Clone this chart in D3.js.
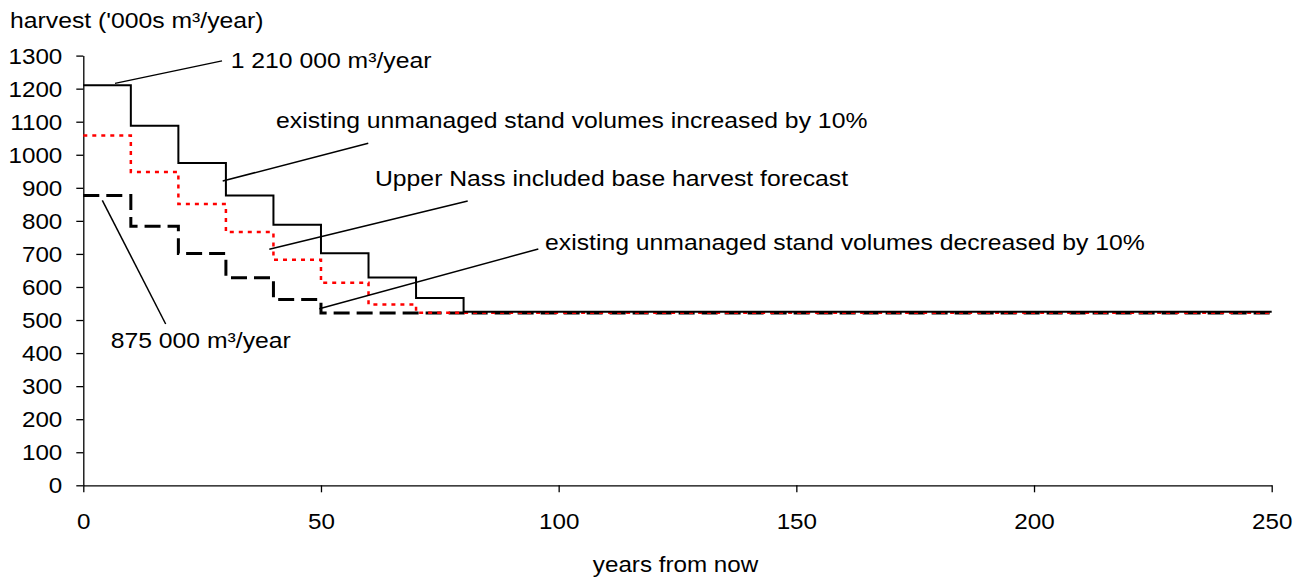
<!DOCTYPE html>
<html>
<head>
<meta charset="utf-8">
<script src="https://cdn.jsdelivr.net/npm/d3@7"></script>
<style>
  html, body { margin: 0; padding: 0; background: #fff; }
  svg { display: block; }
  text { font-family: "Liberation Sans", Arial, sans-serif; fill: #000; }
</style>
</head>
<body>
<svg id="chart" width="1303" height="578"></svg>
<script>
// ---- data ----
const years = [0, 10, 20, 30, 40, 50, 60, 70, 80, 250];
const increased = [1210, 1088, 975, 877, 788, 702, 629, 567, 525, 525];   // solid
const baseForecast = [1058, 948, 851, 766, 682, 613, 547, 522, 522, 522]; // red dotted
const decreased = [877, 784, 701, 628, 562, 521, 521, 521, 521, 521];     // dashed
const xTicks = [0, 50, 100, 150, 200, 250];
const yTicks = [0, 100, 200, 300, 400, 500, 600, 700, 800, 900, 1000, 1100, 1200, 1300];
const yTitle = "harvest ('000s m³/year)";
const xTitle = "years from now";
// annotations: [line from (year,value) to (year,value)], text anchored at (year,value)
const annLabels = ["1 210 000 m³/year", "existing unmanaged stand volumes increased by 10%",
  "Upper Nass included base harvest forecast", "existing unmanaged stand volumes decreased by 10%",
  "875 000 m³/year"];
const annLine = [[6.67, 1216, 29.18, 1284], [29.33, 920.6, 59.95, 1034.7], [39.13, 714, 80.87, 860],
  [49.65, 534.3, 95.72, 714.9], [4.0, 862.2, 17.33, 488]];
const annText = [[31.0, 1261.6], [40.54, 1080], [61.36, 905.5], [97.13, 711.9], [5.76, 414.5]];

// ---- layout ----
const FS = 22, SX = 1.1, SXA = 1.125;
const svg = d3.select("#chart");
const x = d3.scaleLinear().domain([0, 250]).range([83.3, 1271.7]);
const y = d3.scaleLinear().domain([0, 1300]).range([485.3, 55.6]);

function label(tx, ty, str, anchor, sx) {
  return svg.append("text")
    .attr("transform", `translate(${tx},${ty}) scale(${sx || SX},1)`)
    .attr("text-anchor", anchor || "start")
    .style("font-size", FS + "px")
    .text(str);
}

// axes
const yAxis = svg.append("g").attr("transform", `translate(${x(0)},0)`)
  .call(d3.axisLeft(y).tickValues(yTicks).tickSize(7).tickSizeOuter(0).tickFormat(d3.format("d")));
yAxis.selectAll("text").attr("x", null).attr("dy", null)
  .attr("transform", `translate(-21,0) scale(${SX},1)`)
  .attr("dominant-baseline", "central")
  .style("font-size", FS + "px").style("font-family", '"Liberation Sans", Arial, sans-serif');
const xAxis = svg.append("g").attr("transform", `translate(0,${y(0)})`)
  .call(d3.axisBottom(x).tickValues(xTicks).tickSize(7).tickSizeOuter(0).tickFormat(d3.format("d")));
xAxis.selectAll("text").attr("y", null).attr("dy", null)
  .attr("transform", `translate(0,44) scale(${SX},1)`)
  .style("font-size", FS + "px").style("font-family", '"Liberation Sans", Arial, sans-serif');
svg.selectAll(".domain, .tick line").attr("stroke", "#000").attr("stroke-width", 1.3);

// series
const line = d3.line().x((d, i) => x(years[i])).y(d => y(d)).curve(d3.curveStepAfter);
svg.append("path").datum(decreased).attr("d", line).attr("fill", "none")
  .attr("stroke", "#000").attr("stroke-width", 3).attr("stroke-dasharray", "16,7");
svg.append("path").datum(baseForecast).attr("d", line).attr("fill", "none")
  .attr("stroke", "#ff0000").attr("stroke-width", 2.5).attr("stroke-dasharray", "4,5");
svg.append("path").datum(increased).attr("d", line).attr("fill", "none")
  .attr("stroke", "#000").attr("stroke-width", 2);

// annotations
annLine.forEach(l => {
  svg.append("line").attr("x1", x(l[0])).attr("y1", y(l[1])).attr("x2", x(l[2])).attr("y2", y(l[3]))
    .attr("stroke", "#000").attr("stroke-width", 1.5);
});
annText.forEach((t, i) => label(x(t[0]), y(t[1]), annLabels[i], "start", SXA));

// titles
label(10, 28.3, yTitle, "start", SXA);
label(675.5, 572, xTitle, "middle");
</script>
</body>
</html>
